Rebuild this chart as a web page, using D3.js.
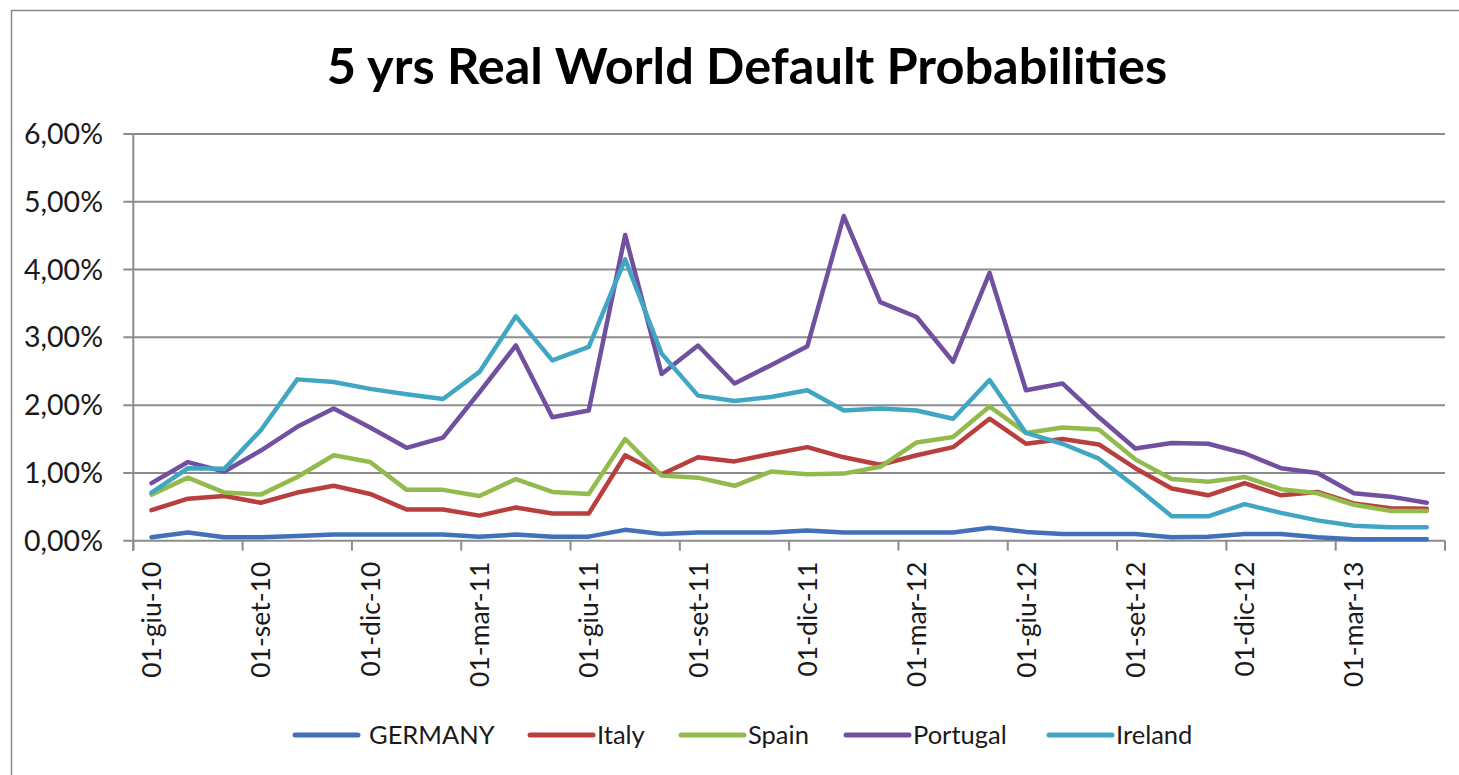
<!DOCTYPE html>
<html>
<head>
<meta charset="utf-8">
<script src="https://cdn.jsdelivr.net/npm/d3@7"></script>
<style>
  html, body { margin: 0; padding: 0; background: #fff; }
  svg { display: block; }
</style>
</head>
<body>
<svg id="chart" width="1459" height="775"></svg>
<script>
const months = ["01-giu-10","01-lug-10","01-ago-10","01-set-10","01-ott-10","01-nov-10","01-dic-10","01-gen-11","01-feb-11",
  "01-mar-11","01-apr-11","01-mag-11","01-giu-11","01-lug-11","01-ago-11","01-set-11","01-ott-11","01-nov-11",
  "01-dic-11","01-gen-12","01-feb-12","01-mar-12","01-apr-12","01-mag-12","01-giu-12","01-lug-12","01-ago-12",
  "01-set-12","01-ott-12","01-nov-12","01-dic-12","01-gen-13","01-feb-13","01-mar-13","01-apr-13","01-mag-13"];

const seriesNames = ["GERMANY","Italy","Spain","Portugal","Ireland"];

const germany  = [0.05,0.12,0.05,0.05,0.07,0.09,0.09,0.09,0.09,0.06,0.09,0.06,0.06,0.16,0.10,0.12,0.12,0.12,0.15,0.12,0.12,0.12,0.12,0.19,0.13,0.10,0.10,0.10,0.05,0.06,0.10,0.10,0.05,0.02,0.02,0.02];
const italy    = [0.45,0.62,0.66,0.56,0.71,0.81,0.69,0.46,0.46,0.37,0.49,0.40,0.40,1.26,0.98,1.23,1.17,1.28,1.38,1.23,1.12,1.26,1.38,1.80,1.43,1.50,1.42,1.07,0.77,0.67,0.85,0.67,0.72,0.55,0.48,0.47];
const spain    = [0.68,0.93,0.71,0.68,0.94,1.26,1.16,0.75,0.75,0.66,0.91,0.72,0.69,1.50,0.96,0.93,0.81,1.02,0.98,0.99,1.09,1.45,1.53,1.98,1.59,1.67,1.64,1.20,0.91,0.87,0.94,0.76,0.70,0.53,0.44,0.44];
const portugal = [0.85,1.16,1.02,1.33,1.68,1.95,1.67,1.37,1.52,2.19,2.88,1.82,1.92,4.51,2.46,2.88,2.32,2.59,2.87,4.79,3.52,3.30,2.64,3.95,2.22,2.32,1.82,1.36,1.44,1.43,1.29,1.07,1.00,0.70,0.65,0.56];
const ireland  = [0.71,1.07,1.06,1.63,2.38,2.34,2.24,2.16,2.09,2.49,3.31,2.66,2.86,4.15,2.76,2.14,2.06,2.12,2.22,1.92,1.95,1.92,1.80,2.37,1.59,1.43,1.21,0.80,0.36,0.36,0.54,0.41,0.30,0.22,0.20,0.20];

const yTicks = [0,1,2,3,4,5,6];
const yTickLabels = ["0,00%","1,00%","2,00%","3,00%","4,00%","5,00%","6,00%"];

const colors = ["#4271B9","#B83F3D","#93BA4C","#7150A0","#41A6C4"];
const seriesValues = [germany, italy, spain, portugal, ireland];

const svg = d3.select("#chart");
const FONT = "Lato, 'Open Sans', sans-serif";

// outer chart border
svg.append("rect").attr("x", 11.5).attr("y", 10.5).attr("width", 1500).attr("height", 800)
  .attr("fill", "none").attr("stroke", "#8a8a8a").attr("stroke-width", 1.5);

const plot = { left: 133.3, right: 1445, top: 134, bottom: 540.7 };

const x = d3.scaleBand().domain(d3.range(months.length)).range([plot.left, plot.right]).paddingInner(0).paddingOuter(0);
const y = d3.scaleLinear().domain([0, 6]).range([plot.bottom, plot.top]);

// gridlines
svg.append("g").selectAll("line").data(yTicks).join("line")
  .attr("x1", plot.left - 10).attr("x2", plot.right)
  .attr("y1", d => y(d)).attr("y2", d => y(d))
  .attr("stroke", "#8c8c8c").attr("stroke-width", 2);

// y axis line
svg.append("line").attr("x1", plot.left).attr("x2", plot.left)
  .attr("y1", plot.top).attr("y2", plot.bottom + 10)
  .attr("stroke", "#8c8c8c").attr("stroke-width", 2);

// x tick marks at category boundaries every 3 months
const boundaries = d3.range(0, months.length + 1, 3);
svg.append("g").selectAll("line").data(boundaries).join("line")
  .attr("x1", d => d < months.length ? x(d) : plot.right)
  .attr("x2", d => d < months.length ? x(d) : plot.right)
  .attr("y1", plot.bottom).attr("y2", plot.bottom + 10)
  .attr("stroke", "#8c8c8c").attr("stroke-width", 2);

// y labels
svg.append("g").selectAll("text").data(yTicks).join("text")
  .attr("x", 103).attr("y", d => y(d)).attr("dy", "0.35em")
  .attr("text-anchor", "end")
  .style("font-family", FONT).style("font-size", "28.5px").attr("fill", "#1a1a1a")
  .text((d, i) => yTickLabels[i]);

// x labels (every 3rd month), rotated
const labelIdx = d3.range(0, months.length, 3);
svg.append("g").selectAll("text").data(labelIdx).join("text")
  .attr("transform", d => `translate(${x(d) + x.bandwidth() / 2},${plot.bottom + 21}) rotate(-90)`)
  .attr("dy", "0.36em")
  .attr("text-anchor", "end")
  .style("font-family", FONT).style("font-size", "26.5px").attr("fill", "#1a1a1a")
  .text(d => months[d]);

// lines
const line = d3.line().x((d, i) => x(i) + x.bandwidth() / 2).y(d => y(d));
svg.append("g").selectAll("path").data(seriesValues).join("path")
  .attr("d", d => line(d))
  .attr("fill", "none")
  .attr("stroke", (d, i) => colors[i])
  .attr("stroke-width", 4.5)
  .attr("stroke-linejoin", "round")
  .attr("stroke-linecap", "round");

// title
svg.append("text").attr("x", 747).attr("y", 84).attr("text-anchor", "middle")
  .style("font-family", FONT).style("font-weight", "bold").style("font-size", "50.5px")
  .attr("fill", "#000").text("5 yrs Real World Default Probabilities");

// legend
const legendX = [295, 530, 681, 846, 1049];
const lg = svg.append("g").selectAll("g").data(seriesNames).join("g")
  .attr("transform", (d, i) => `translate(${legendX[i]},735)`);
lg.append("line").attr("x1", 0).attr("x2", 63).attr("y1", 0).attr("y2", 0)
  .attr("stroke", (d, i) => colors[i]).attr("stroke-width", 5).attr("stroke-linecap", "round");
lg.append("text").attr("x", (d, i) => i === 0 ? 74 : 67).attr("y", 0).attr("dy", "0.35em")
  .style("font-family", FONT).style("font-size", "25.5px").attr("fill", "#1a1a1a")
  .text(d => d);
</script>
</body>
</html>
